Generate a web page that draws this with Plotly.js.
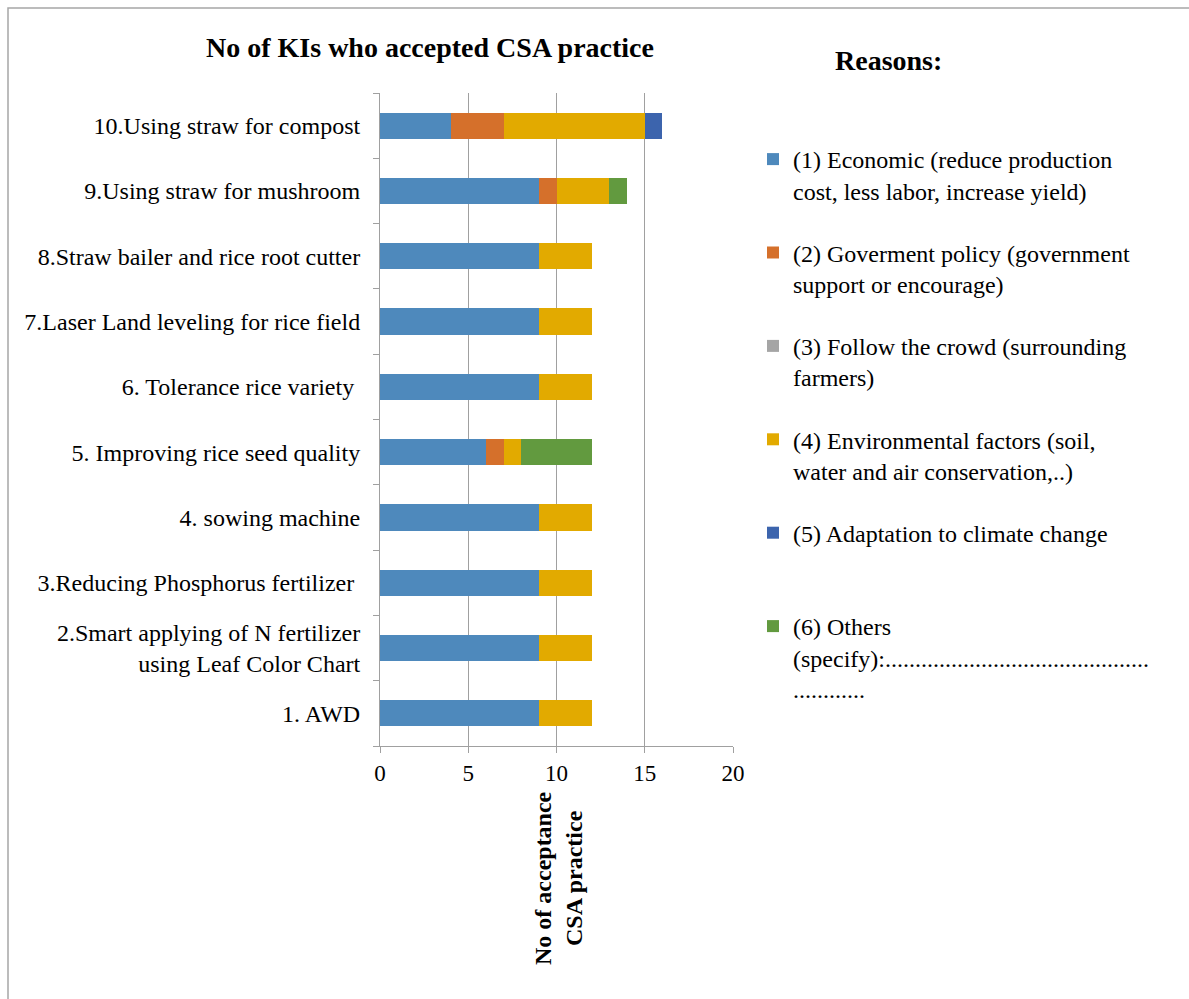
<!DOCTYPE html>
<html>
<head>
<meta charset="utf-8">
<script src="https://cdn.plot.ly/plotly-3.0.1.min.js"></script>
<style>
  html, body { margin: 0; padding: 0; background: #fff; }
  #chart { width: 1189px; height: 999px; }
</style>
</head>
<body>
<div id="chart"></div>
<script>
// CSA practices, listed bottom to top
const practices = [
  "1. AWD",
  "2.Smart applying of N fertilizer<br>using Leaf Color Chart",
  "3.Reducing Phosphorus fertilizer ",
  "4. sowing machine",
  "5. Improving rice seed quality",
  "6. Tolerance rice variety ",
  "7.Laser Land leveling for rice field",
  "8.Straw bailer and rice root cutter",
  "9.Using straw for mushroom",
  "10.Using straw for compost"
];

// Number of KIs per reason, same order as practices
const economic      = [9, 9, 9, 9, 6, 9, 9, 9, 9, 4];
const government    = [0, 0, 0, 0, 1, 0, 0, 0, 1, 3];
const followCrowd   = [0, 0, 0, 0, 0, 0, 0, 0, 0, 0];
const environmental = [3, 3, 3, 3, 1, 3, 3, 3, 3, 8];
const climate       = [0, 0, 0, 0, 0, 0, 0, 0, 0, 1];
const others        = [0, 0, 0, 0, 4, 0, 0, 0, 1, 0];

const reasonNames = [
  "(1) Economic (reduce production<br>cost, less labor, increase yield)",
  "(2) Goverment policy (government<br>support or encourage)",
  "(3) Follow the crowd (surrounding<br>farmers)",
  "(4) Environmental factors (soil,<br>water and air conservation,..)",
  "(5) Adaptation to climate change<br>\u00a0",
  "(6) Others<br>(specify):" + ".".repeat(44) + "<br>" + ".".repeat(12)
];
const reasonColors = ["#4E89BC", "#D5702B", "#A5A5A5", "#E2AA00", "#3C64AD", "#629A3F"];
const reasonValues = [economic, government, followCrowd, environmental, climate, others];

const serif = "Liberation Serif";

const traces = reasonValues.map((vals, i) => ({
  type: "bar",
  orientation: "h",
  y: practices,
  x: vals,
  name: reasonNames[i],
  legendgroup: "r" + i,
  marker: { color: reasonColors[i], line: { width: 0 } },
  hoverinfo: "x+name"
}));

// plot area in pixels
const W = 1189, H = 999;
const L = 380, R = 733, T = 93, B = 746;
const px = x => (x - L) / (R - L);
const py = y => (B - y) / (B - T);

const layout = {
  width: W,
  height: H,
  margin: { l: L, r: W - R, t: T, b: H - B, pad: 0 },
  paper_bgcolor: "#ffffff",
  plot_bgcolor: "#ffffff",
  font: { family: serif, size: 24, color: "#000" },
  barmode: "stack",
  bargap: 0.6,
  showlegend: true,
  title: {
    text: "<b>No of KIs who accepted CSA practice</b>",
    font: { family: serif, size: 28, color: "#000" },
    xref: "container", x: 430 / W, xanchor: "center",
    yref: "container", y: 1 - 47 / H, yanchor: "middle"
  },
  xaxis: {
    range: [0, 20],
    tickvals: [0, 5, 10, 15, 20],
    ticktext: ["0", "5", "10", "15", "20"],
    showgrid: true,
    gridcolor: "#A0A0A0",
    gridwidth: 1,
    zeroline: false,
    showline: true,
    linecolor: "#A0A0A0",
    linewidth: 1,
    ticks: "outside",
    ticklen: 6,
    tickcolor: "#A0A0A0",
    ticklabelstandoff: 0,
    tickfont: { family: serif, size: 23, color: "#000" },
    fixedrange: true
  },
  yaxis: {
    type: "category",
    categoryorder: "array",
    categoryarray: practices,
    showgrid: false,
    zeroline: false,
    showline: true,
    linecolor: "#A0A0A0",
    linewidth: 1,
    ticks: "outside",
    tickson: "boundaries",
    ticklen: 6,
    tickcolor: "#A0A0A0",
    ticklabelstandoff: 14,
    tickfont: { family: serif, size: 24, color: "#000" },
    fixedrange: true
  },
  legend: {
    x: px(753), xanchor: "left",
    y: py(137), yanchor: "top",
    traceorder: "grouped",
    tracegroupgap: 28,
    valign: "top",
    font: { family: serif, size: 24, color: "#000" },
    bgcolor: "rgba(0,0,0,0)",
    borderwidth: 0
  },
  annotations: [
    {
      text: "<b>Reasons:</b>",
      xref: "paper", yref: "paper",
      x: px(888), y: py(60),
      xanchor: "center", yanchor: "middle",
      showarrow: false,
      font: { family: serif, size: 28, color: "#000" }
    },
    {
      text: "<b>No of acceptance<br>CSA practice</b>",
      xref: "paper", yref: "paper",
      x: px(558), y: py(878),
      xanchor: "center", yanchor: "middle",
      textangle: -90,
      showarrow: false,
      font: { family: serif, size: 24, color: "#000" }
    }
  ],
  shapes: [
    {
      type: "rect",
      xref: "paper", yref: "paper",
      x0: px(8), x1: px(1210),
      y0: py(1020), y1: py(8),
      line: { color: "#A6A6A6", width: 1.5 },
      fillcolor: "rgba(0,0,0,0)",
      layer: "below"
    }
  ]
};

Plotly.newPlot("chart", traces, layout, { displayModeBar: false, staticPlot: true });
</script>
</body>
</html>
